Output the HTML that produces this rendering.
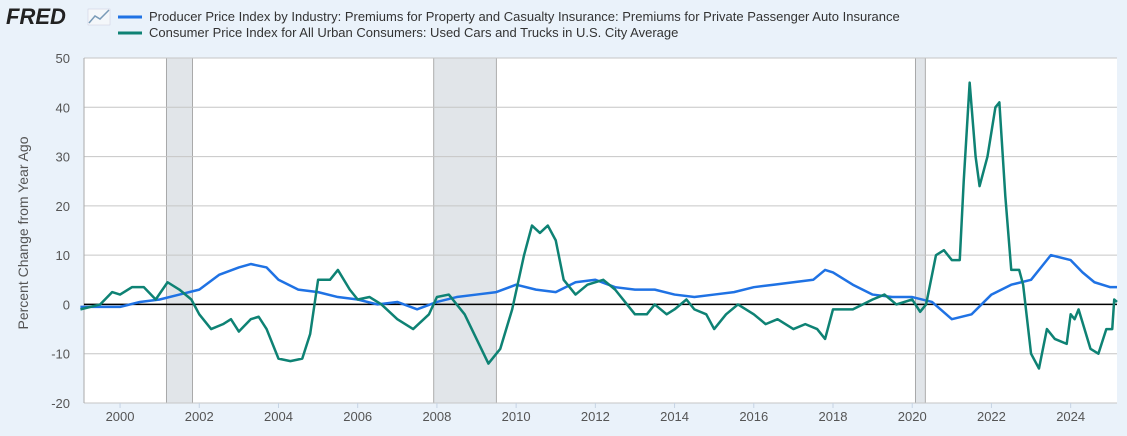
<!DOCTYPE html>
<html><head><meta charset="utf-8"><style>
body{margin:0;background:#eaf2fa;font-family:"Liberation Sans",sans-serif;}
svg{display:block}
</style></head><body>
<svg id="c" width="1127" height="436" xmlns="http://www.w3.org/2000/svg">
<rect x="0" y="0" width="1127" height="436" fill="#eaf2fa"/>
<g>
<text x="6" y="24" font-size="22" font-weight="bold" fill="#222" font-family="Liberation Sans, sans-serif" font-style="italic">FRED</text>
<rect x="88" y="9" width="22" height="16" fill="#f4f7fa" stroke="#ccd" stroke-width="0.5"/>
<polyline points="89,23 95,16 100,19 109,10" fill="none" stroke="#7a9bb8" stroke-width="1.5"/>
</g>
<g font-size="13" fill="#333">
<line x1="118" y1="17" x2="142" y2="17" stroke="#1f72e4" stroke-width="3"/>
<text x="149" y="21">Producer Price Index by Industry: Premiums for Property and Casualty Insurance: Premiums for Private Passenger Auto Insurance</text>
<line x1="118" y1="33" x2="142" y2="33" stroke="#0e8274" stroke-width="3"/>
<text x="149" y="37">Consumer Price Index for All Urban Consumers: Used Cars and Trucks in U.S. City Average</text>
</g>
<text transform="translate(28,233) rotate(-90)" text-anchor="middle" font-size="14" fill="#555">Percent Change from Year Ago</text>
<g id="plot"></g>
</svg>
<script>
const yTicks=[50,40,30,20,10,0,-10,-20];
const xTicks=[2000,2002,2004,2006,2008,2010,2012,2014,2016,2018,2020,2022,2024];
const recessions=[[2001.17,2001.83],[2007.92,2009.5],[2020.08,2020.33]];
const ppiX=[1999,1999.5,2000,2000.5,2001,2001.5,2002,2002.5,2003,2003.3,2003.7,2004,2004.5,2005,2005.5,2006,2006.5,2007,2007.5,2008,2008.5,2009,2009.5,2010,2010.5,2011,2011.5,2012,2012.5,2013,2013.5,2014,2014.5,2015,2015.5,2016,2016.5,2017,2017.5,2017.8,2018,2018.5,2019,2019.5,2020,2020.5,2021,2021.5,2022,2022.5,2023,2023.3,2023.5,2024,2024.3,2024.6,2025,2025.17];
const ppiY=[-0.5,-0.5,-0.5,0.5,1,2,3,6,7.5,8.2,7.5,5,3,2.5,1.5,1,0,0.5,-1,0.5,1.5,2,2.5,4,3,2.5,4.5,5,3.5,3,3,2,1.5,2,2.5,3.5,4,4.5,5,7,6.5,4,2,1.5,1.5,0.5,-3,-2,2,4,5,8,10,9,6.5,4.5,3.5,3.5];
const cpiX=[1999,1999.5,1999.8,2000,2000.3,2000.6,2000.9,2001.2,2001.5,2001.8,2002,2002.3,2002.6,2002.8,2003,2003.3,2003.5,2003.7,2004,2004.3,2004.6,2004.8,2005,2005.3,2005.5,2005.8,2006,2006.3,2006.6,2007,2007.4,2007.8,2008,2008.3,2008.7,2009,2009.3,2009.6,2009.9,2010.2,2010.4,2010.6,2010.8,2011,2011.2,2011.5,2011.8,2012.2,2012.5,2012.8,2013,2013.3,2013.5,2013.8,2014,2014.3,2014.5,2014.8,2015,2015.3,2015.6,2016,2016.3,2016.6,2017,2017.3,2017.6,2017.8,2018,2018.5,2019,2019.3,2019.6,2020,2020.2,2020.35,2020.5,2020.6,2020.8,2021,2021.2,2021.3,2021.45,2021.6,2021.7,2021.9,2022.1,2022.2,2022.35,2022.5,2022.7,2022.8,2023,2023.2,2023.4,2023.6,2023.9,2024,2024.1,2024.2,2024.5,2024.7,2024.9,2025.05,2025.1,2025.17];
const cpiY=[-1,0,2.5,2,3.5,3.5,1,4.5,3,1,-2,-5,-4,-3,-5.5,-3,-2.5,-5,-11,-11.5,-11,-6,5,5,7,3,1,1.5,0,-3,-5,-2,1.5,2,-2,-7,-12,-9,-1,10,16,14.5,16,13,5,2,4,5,3,0,-2,-2,0,-2,-1,1,-1,-2,-5,-2,0,-2,-4,-3,-5,-4,-5,-7,-1,-1,1,2,0,1,-1.5,0,6,10,11,9,9,25,45,30,24,30,40,41,22,7,7,4,-10,-13,-5,-7,-8,-2,-3,-1,-9,-10,-5,-5,1,0.5];
const L=84,R=1117,T=58,B=403,x0=1999.09,x1=2025.17,yMin=-20,yMax=50;
const X=v=>L+(v-x0)/(x1-x0)*(R-L);
const Y=v=>B-(v-yMin)/(yMax-yMin)*(B-T);
const NS="http://www.w3.org/2000/svg",g=document.getElementById('plot');
function mk(t,a){const e=document.createElementNS(NS,t);for(const k in a)e.setAttribute(k,a[k]);g.appendChild(e);return e;}
const bg=mk('rect',{x:L,y:T,width:R-L,height:B-T,fill:'#fff'});


recessions.forEach(r=>{const e=mk('rect',{x:X(r[0]),y:T,width:X(r[1])-X(r[0]),height:B-T,fill:'#e1e5e9',stroke:'#999','stroke-width':0.8});

});
yTicks.forEach(v=>{const l=mk('line',{x1:L,x2:R,y1:Y(v),y2:Y(v),stroke:'#c6c6c6','stroke-width':1});


const t=mk('text',{x:70,y:Y(v)+5,'text-anchor':'end','font-size':13,fill:'#555'});t.textContent=v;

});
const ax=mk('line',{x1:L,x2:L,y1:T,y2:B,stroke:'#aaa'});


xTicks.forEach(v=>{const l=mk('line',{x1:X(v),x2:X(v),y1:B,y2:B+5,stroke:'#c6d3e3'});


const t=mk('text',{x:X(v),y:421,'text-anchor':'middle','font-size':13,fill:'#555'});t.textContent=v;

});
const z=mk('line',{x1:L,x2:R,y1:Y(0),y2:Y(0),stroke:'#000','stroke-width':1.5});


function line(xs,ys,c,n){const p=mk('polyline',{points:xs.map((v,i)=>X(v)+','+Y(ys[i])).join(' '),fill:'none',stroke:c,'stroke-width':2.5,'stroke-linejoin':'round'});

}
line(ppiX,ppiY,'#1f72e4','ppi-auto-insurance-line');
line(cpiX,cpiY,'#0e8274','cpi-used-cars-line');
</script>
</body></html>
